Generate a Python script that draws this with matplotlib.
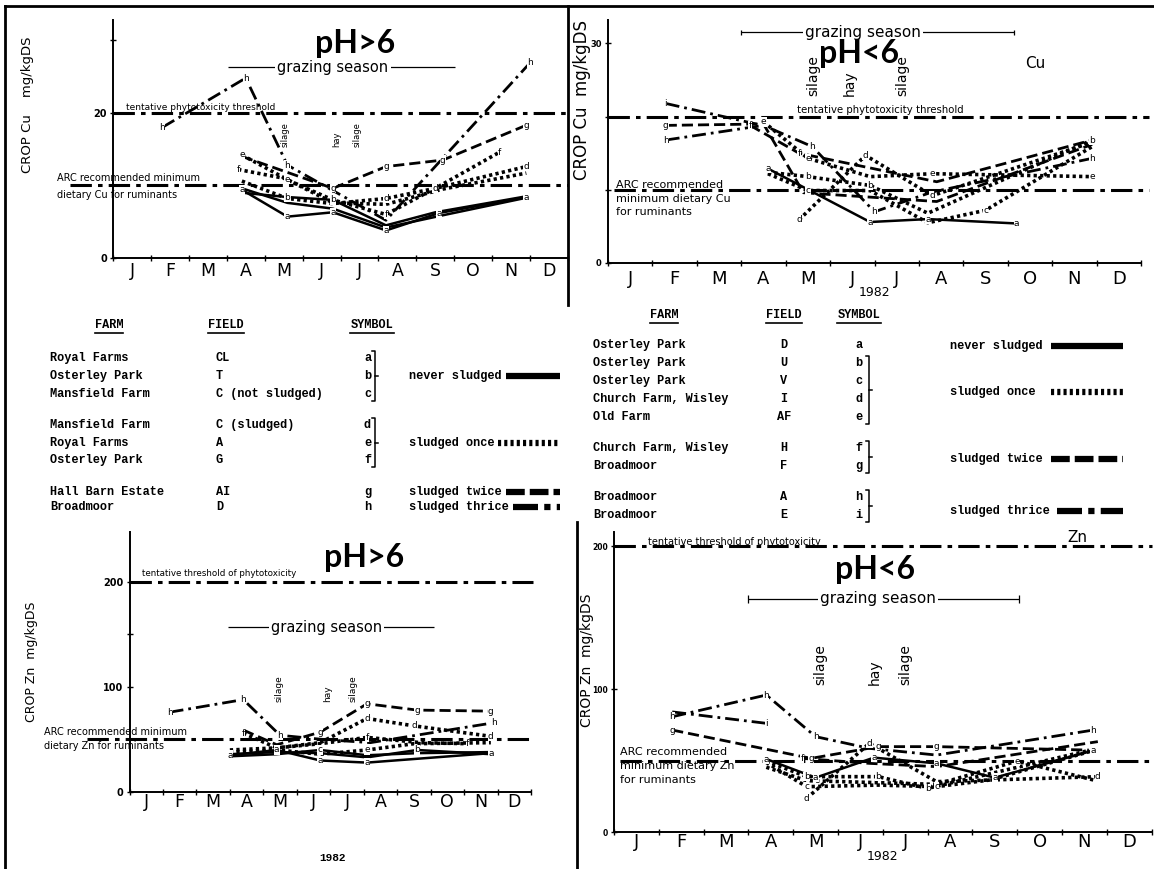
import numpy as np
import matplotlib.pyplot as plt
from matplotlib.lines import Line2D

W, H = 1154, 869

months = ['J', 'F', 'M', 'A', 'M', 'J', 'J', 'A', 'S', 'O', 'N', 'D']

# x = months from 1 Jan 1982, y = mg/kgDS ; letter -> (x, y)
cu_hi = {
    'a': ([3.4, 4.6, 5.8, 7.2, 8.6, 10.9], [9.4, 5.7, 6.3, 3.8, 6.2, 8.4]),
    'b': ([3.4, 4.6, 5.8, 7.2, 8.5, 10.9], [9.0, 8.4, 8.0, 4.5, 6.3, 8.5]),
    'c': ([3.4, 4.6, 5.8, 7.2, 8.8, 10.9], [9.6, 7.6, 6.8, 4.2, 6.0, 8.3]),
    'd': ([3.4, 4.6, 5.8, 7.2, 8.5, 10.9], [10.6, 8.2, 7.5, 8.2, 9.6, 12.6]),
    'e': ([3.4, 4.6, 5.8, 7.2, 8.7, 10.9], [14.2, 10.8, 7.6, 7.4, 9.5, 11.7]),
    'f': ([3.3, 4.5, 5.8, 7.2, 8.6, 10.2], [12.2, 11.0, 8.0, 6.0, 9.9, 14.6]),
    'g': ([3.4, 5.8, 7.2, 8.7, 10.9], [14.0, 9.6, 12.6, 13.5, 18.3]),
    'h': ([1.3, 3.5, 4.6, 7.2, 11.0], [18.0, 24.8, 12.8, 5.2, 26.9]),
}
cu_lo = {
    'a': ([3.6, 5.9, 7.2, 9.2], [12.9, 5.6, 6.0, 5.4]),
    'b': ([3.6, 4.5, 5.9, 7.2, 10.9], [12.4, 11.8, 10.6, 6.8, 16.8]),
    'c': ([3.6, 4.5, 5.9, 7.2, 8.5, 10.9], [12.2, 9.9, 9.9, 5.5, 7.2, 15.9]),
    'd': ([4.3, 5.8, 7.3, 10.9], [5.9, 14.7, 9.2, 16.5]),
    'e': ([3.5, 4.5, 5.9, 7.3, 10.9], [19.3, 14.3, 11.8, 12.2, 11.8]),
    'f': ([3.2, 4.3, 7.4, 10.9], [18.8, 15.0, 11.1, 16.8]),
    'g': ([1.3, 3.5, 4.4, 7.4, 10.9], [18.8, 19.0, 9.6, 8.4, 16.2]),
    'h': ([1.3, 3.5, 4.6, 6.0, 7.3, 10.9], [16.8, 18.8, 15.9, 7.0, 9.7, 14.3]),
    'i': ([1.3, 3.4], [21.8, 18.9]),
}
zn_hi = {
    'a': ([3.0, 4.4, 5.7, 7.1, 10.8], [35, 40, 30, 28, 37]),
    'b': ([3.0, 4.4, 5.7, 7.1, 8.6, 10.8], [36, 38, 37, 33, 40, 36]),
    'c': ([3.0, 4.4, 5.7, 7.1, 8.6, 10.8], [34, 36, 40, 35, 37, 38]),
    'd': ([3.0, 4.4, 5.7, 7.1, 8.5, 10.8], [40, 42, 47, 70, 63, 53]),
    'e': ([3.0, 4.4, 5.7, 7.1, 8.5, 10.8], [38, 40, 36, 40, 46, 47]),
    'f': ([3.4, 4.4, 5.7, 7.1, 8.7, 10.1], [56, 42, 46, 52, 47, 46]),
    'g': ([3.4, 4.4, 5.7, 7.1, 8.6, 10.8], [59, 45, 57, 84, 78, 77]),
    'h': ([1.2, 3.4, 4.5, 5.8, 7.2, 10.9], [76, 88, 54, 50, 47, 66]),
}
zn_lo = {
    'a': ([3.4, 4.5, 5.8, 7.2, 8.5, 10.7], [51, 38, 52, 48, 38, 57]),
    'b': ([3.4, 4.3, 5.9, 7.0, 10.6], [49.6, 38.7, 38.7, 30.5, 57]),
    'c': ([3.4, 4.3, 5.9, 7.2, 8.4, 10.7], [48.6, 31.7, 32.8, 31.7, 36.4, 57]),
    'd': ([4.3, 5.7, 7.2, 10.8], [23.5, 62, 35.2, 38.7]),
    'e': ([3.4, 4.3, 5.9, 7.2, 9.0, 10.7], [45.3, 35.9, 34.5, 33.3, 49.6, 36.4]),
    'f': ([4.2, 5.7, 7.2, 10.8], [51.5, 48, 45.7, 63.2]),
    'g': ([1.3, 4.4, 5.9, 7.2, 10.6], [71.3, 51.5, 59.7, 59.7, 57.3]),
    'h': ([1.3, 3.4, 4.5, 5.7, 7.2, 10.7], [80.6, 95.8, 66.7, 58.5, 53.8, 71.3]),
    'i': ([1.3, 3.4], [84, 76]),
}

cu_threshold, cu_arc = 20, 10
zn_threshold, zn_arc = 200, 50

# tables
farms_hi = ['Royal Farms', 'Osterley Park', 'Mansfield Farm', 'Mansfield Farm',
            'Royal Farms', 'Osterley Park', 'Hall Barn Estate', 'Broadmoor']
fields_hi = ['CL', 'T', 'C (not sludged)', 'C (sludged)', 'A', 'G', 'AI', 'D']
treat_hi = ['never'] * 3 + ['once'] * 3 + ['twice', 'thrice']
farms_lo = ['Osterley Park', 'Osterley Park', 'Osterley Park', 'Church Farm, Wisley',
            'Old Farm', 'Church Farm, Wisley', 'Broadmoor', 'Broadmoor', 'Broadmoor']
fields_lo = ['D', 'U', 'V', 'I', 'AF', 'H', 'F', 'A', 'E']
treat_lo = ['never'] + ['once'] * 4 + ['twice'] * 2 + ['thrice'] * 2

STY = {
    'never': dict(ls='-', lw=1.8),
    'once': dict(ls=(0, (0.9, 0.9)), lw=2.6),
    'twice': dict(ls=(0, (4, 1.8)), lw=2.0),
    'thrice': dict(ls=(0, (5, 1.8, 1, 1.8)), lw=2.0),
}
SAMPLE = {
    'never': dict(ls='-', lw=4.5),
    'once': dict(ls=(0, (0.5, 0.5)), lw=4.5),
    'twice': dict(ls=(0, (3, 0.8)), lw=4.5),
    'thrice': dict(ls=(0, (4, 1, 1, 1)), lw=4.5),
}
THR = dict(colors='k', linestyles=[(0, (7, 2, 1.5, 2))], lw=2.2, clip_on=False)

plt.rcParams['font.family'] = ['DejaVu Sans']
fig = plt.figure(figsize=(W / 100, H / 100), dpi=100)
fig.patch.set_facecolor('white')


def fx(px):
    return px / W


def fy(py):
    return 1 - py / H


def ftext(x, y, s, **kw):
    kw.setdefault('ha', 'left')
    kw.setdefault('va', 'center')
    fig.text(fx(x), fy(y), s, **kw)


def fline(xs, ys, **kw):
    fig.add_artist(Line2D([fx(v) for v in xs], [fy(v) for v in ys], color='k', **kw))


def panel(box, ymax, yticks, ylabels, mfs, mpad, yfs):
    x0, x1, ytop, yzero = box
    ax = fig.add_axes([fx(x0), fy(yzero), (x1 - x0) / W, (yzero - ytop) / H])
    ax.patch.set_alpha(0)
    ax.set_xlim(0, 12)
    ax.set_ylim(0, ymax)
    for s in ['top', 'right']:
        ax.spines[s].set_visible(False)
    for s in ['left', 'bottom']:
        ax.spines[s].set_linewidth(1.4)
    ax.set_xticks(range(13))
    ax.set_xticklabels([])
    ax.set_xticks(np.arange(12) + 0.5, months, minor=True)
    ax.tick_params(axis='x', which='major', direction='inout', length=5, width=1)
    ax.tick_params(axis='x', which='minor', length=0, labelsize=mfs, pad=mpad)
    ax.set_yticks(yticks, ylabels)
    ax.tick_params(axis='y', direction='inout', length=5, width=1, labelsize=yfs, pad=2)
    for t in ax.get_yticklabels():
        t.set_fontweight('bold')
    return ax


def draw_series(ax, data, treat):
    placed = []
    for i, (k, (xs, ys)) in enumerate(data.items()):
        ax.plot(xs, ys, color='k', clip_on=False, **STY[treat[i]])
        for x, y in zip(xs, ys):
            px, py = ax.transData.transform((x, y))
            # letters of crowded points would sit on top of each other
            if any(abs(px - qx) < 8 and abs(py - qy) < 9 for qx, qy in placed):
                continue
            placed.append((px, py))
            ax.text(x, y, k, fontsize=6.5, ha='center', va='center',
                    bbox=dict(fc='white', ec='none', pad=0.2))


def grazing(ax, y, x0, x1, xt, fs, ends):
    ax.hlines(y, x0, x1, colors='k', lw=0.9, clip_on=False)
    if ends:
        h = ax.get_ylim()[1] * 0.012
        ax.vlines([x0, x1], y - h, y + h, colors='k', lw=0.9, clip_on=False)
    ax.text(xt, y, 'grazing season', fontsize=fs, ha='center', va='center',
            bbox=dict(fc='white', ec='none', pad=1.5))


def harvest(ax, xs, names, y, fs):
    for x, n in zip(xs, names):
        ax.text(x, y, n, rotation=90, fontsize=fs, ha='center', va='bottom')


harvest_names = ['silage', 'hay', 'silage']
big = dict(fontsize=23, fontweight='bold', family=['Lato', 'DejaVu Sans'], ha='center', va='center')

# ---- top left: Cu pH>6
ax = panel((113, 568, 20, 258), 32.8, [0, 10, 20, 30], ['0', '', '20', ''], 12.5, 3, 7)
ax.hlines(cu_threshold, 0, 12, **THR)
ax.hlines(cu_arc, -1.13, 12, **THR)
draw_series(ax, cu_hi, treat_hi)
grazing(ax, 26.3, 3.03, 9.02, 5.8, 10.5, False)
harvest(ax, [4.54, 5.91, 6.44], harvest_names, 15.3, 6)
ftext(355, 43, 'pH>6', **big)
ftext(126, 107, 'tentative phytotoxicity threshold', fontsize=6.5)
ftext(57, 178, 'ARC recommended minimum', fontsize=7)
ftext(57, 195, 'dietary Cu for ruminants', fontsize=7)
ftext(28, 105, 'CROP Cu    mg/kgDS', fontsize=9.5, rotation=90, ha='center')

# ---- top right: Cu pH<6
ax = panel((608, 1141, 20, 263), 33.2, [0, 10, 20, 30], ['0', '', '', '30'], 13, 5, 6)
ax.hlines(cu_threshold, 0, 12.18, **THR)
ax.hlines(cu_arc, 0.13, 12.18, **THR)
draw_series(ax, cu_lo, treat_lo)
grazing(ax, 31.5, 3.0, 9.14, 5.74, 11, True)
harvest(ax, [4.62, 5.45, 6.62], harvest_names, 22.8, 10)
ftext(859, 53, 'pH<6', **big)
ftext(1035, 63, 'Cu', fontsize=11, ha='center')
ftext(797, 110, 'tentative phytotoxicity threshold', fontsize=7.3)
ftext(616, 185, 'ARC recommended', fontsize=8)
ftext(616, 199, 'minimum dietary Cu', fontsize=8)
ftext(616, 212, 'for ruminants', fontsize=8)
ftext(582, 100, 'CROP Cu  mg/kgDS', fontsize=12, rotation=90, ha='center')
ftext(874, 292, '1982', fontsize=9, ha='center')

# ---- bottom left: Zn pH>6
ax = panel((129.5, 531, 532, 792), 247.6, [0, 50, 100, 150, 200], ['0', '', '100', '', '200'], 12.5, 1, 7)
ax.hlines(zn_threshold, 0, 12.05, **THR)
ax.hlines(zn_arc, -1.27, 12.05, **THR)
draw_series(ax, zn_hi, treat_hi)
grazing(ax, 157, 2.93, 9.09, 5.88, 10.5, False)
harvest(ax, [4.48, 5.91, 6.69], harvest_names, 86, 6.5)
ftext(364, 557, 'pH>6', **big)
ftext(142, 574, 'tentative threshold of phytotoxicity', fontsize=6.3)
ftext(44, 732, 'ARC recommended minimum', fontsize=7)
ftext(44, 746, 'dietary Zn for ruminants', fontsize=7)
ftext(31, 662, 'CROP Zn  mg/kgDS', fontsize=9, rotation=90, ha='center')
ftext(333, 858, '1982', fontsize=8, ha='center', family='Liberation Mono', fontweight='bold')

# ---- bottom right: Zn pH<6
ax = panel((614, 1151.6, 532, 832), 209.8, [0, 100, 200], ['0', '100', '200'], 13, 0.5, 5.5)
ax.hlines(zn_threshold, 0, 12, **THR)
ax.hlines(zn_arc, 0.13, 12, **THR)
draw_series(ax, zn_lo, treat_lo)
grazing(ax, 163, 2.99, 9.04, 5.89, 11, True)
harvest(ax, [4.6, 5.83, 6.5], harvest_names, 103, 10)
ftext(875, 570, 'pH<6', **big)
ftext(1077, 537, 'Zn', fontsize=11, ha='center')
ftext(648, 542, 'tentative threshold of phytotoxicity', fontsize=7)
ftext(620, 752, 'ARC recommended', fontsize=8)
ftext(620, 766, 'minimum dietary Zn', fontsize=8)
ftext(620, 780, 'for ruminants', fontsize=8)
ftext(587, 660, 'CROP Zn  mg/kgDS', fontsize=10, rotation=90, ha='center')
ftext(882, 857, '1982', fontsize=9, ha='center')

# ---- legend tables (typewriter)
mono = dict(family='Liberation Mono', fontweight='bold', fontsize=8.6)
CH = 7.2  # px per character


def header(x, y, s):
    ftext(x, y, s, ha='center', **mono)
    w = len(s) * CH
    fline([x - w / 2, x + w / 2], [y + 8, y + 8], lw=1.2)


def bracket(x, y0, y1):
    fline([x, x + 3, x + 3, x], [y0 - 7, y0 - 7, y1 + 7, y1 + 7], lw=1.1)
    fline([x + 3, x + 6], [(y0 + y1) / 2] * 2, lw=1.1)


def sample(x0, x1, y, kind):
    fline([x0, x1], [y, y], solid_capstyle='butt', **SAMPLE[kind])


# left table
rows_hi = [358, 376, 394, 425, 443, 460, 492, 507]
header(109, 325, 'FARM')
header(226, 325, 'FIELD')
header(372, 325, 'SYMBOL')
for y, fa, fi, s in zip(rows_hi, farms_hi, fields_hi, cu_hi.keys()):
    ftext(50, y, fa, **mono)
    ftext(216, y, fi, **mono)
    ftext(364, y, s, **mono)
bracket(372, rows_hi[0], rows_hi[2])
bracket(372, rows_hi[3], rows_hi[5])
for txt, y, kind in [('never sludged', rows_hi[1], 'never'), ('sludged once', rows_hi[4], 'once'),
                     ('sludged twice', rows_hi[6], 'twice'), ('sludged thrice', rows_hi[7], 'thrice')]:
    ftext(409, y, txt, **mono)
    sample(409 + len(txt) * CH + 3, 560, y, kind)

# right table
rows_lo = [345, 363, 381, 399, 417, 448, 466, 497, 515]
header(664, 315, 'FARM')
header(784, 315, 'FIELD')
header(859, 315, 'SYMBOL')
for y, fa, fi, s in zip(rows_lo, farms_lo, fields_lo, cu_lo.keys()):
    ftext(593, y, fa, **mono)
    ftext(784, y, fi, ha='center', **mono)
    ftext(859, y, s, ha='center', **mono)
bracket(866, rows_lo[1], rows_lo[4])
bracket(866, rows_lo[5], rows_lo[6])
bracket(866, rows_lo[7], rows_lo[8])
for txt, y, kind in [('never sludged', 346, 'never'), ('sludged once', 392, 'once'),
                     ('sludged twice', 459, 'twice'), ('sludged thrice', 511, 'thrice')]:
    ftext(950, y, txt, **mono)
    sample(max(950 + len(txt) * CH + 6, 1051), 1123, y, kind)

# frame lines of the composite
fline([5, 1154], [6, 6], lw=2)
fline([5, 5], [6, 869], lw=2)
fline([568, 568], [6, 305], lw=2)
fline([577, 577], [522, 869], lw=2)

fig.savefig('out.png', dpi=100, facecolor='white')
